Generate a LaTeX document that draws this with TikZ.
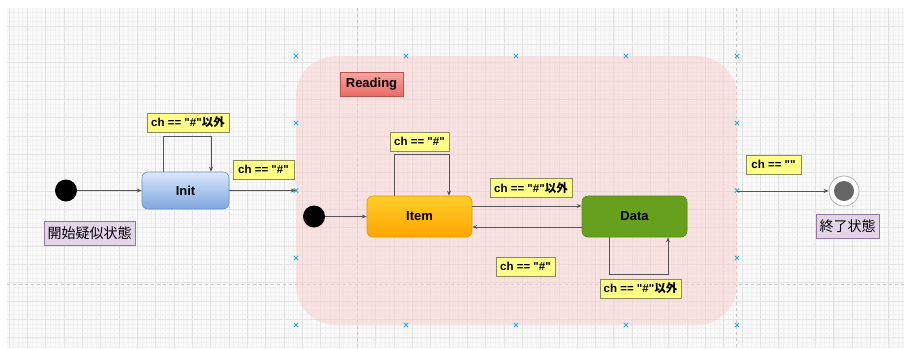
\documentclass[tikz,border=0pt]{standalone}
\usepackage{fontspec}
\setmainfont{Liberation Sans}[Ligatures=TeXOff]
\newfontfamily\cjk{Noto Sans CJK JP}
\usetikzlibrary{arrows.meta,calc,shapes.misc}

\definecolor{gridbg}{HTML}{F9F9F9}
\definecolor{gridminor}{HTML}{F1F1F1}
\definecolor{gridmajor}{HTML}{E3E3E3}
\definecolor{pagebreak}{HTML}{C8C8C8}
\definecolor{regionfill}{HTML}{F8CECC}
\definecolor{handle}{HTML}{29A8EC}
\definecolor{edgecol}{HTML}{555555}
\definecolor{notefill}{HTML}{FFFF88}
\definecolor{notedraw}{HTML}{8A8A5A}
\definecolor{tagfill}{HTML}{E1D5E7}
\definecolor{tagdraw}{HTML}{9673A6}
\definecolor{blueA}{HTML}{DAE8FC}
\definecolor{blueB}{HTML}{7EA6E0}
\definecolor{blueD}{HTML}{6C8EBF}
\definecolor{orangeA}{HTML}{FFCD28}
\definecolor{orangeB}{HTML}{FFA500}
\definecolor{orangeD}{HTML}{D79B00}
\definecolor{greenF}{HTML}{66A01C}
\definecolor{greenD}{HTML}{4F8A10}
\definecolor{redA}{HTML}{F4A5A2}
\definecolor{redB}{HTML}{EA6B66}
\definecolor{redD}{HTML}{B85450}
\definecolor{endring}{HTML}{B3B3B3}
\definecolor{endcore}{HTML}{666666}

\begin{document}
\begin{tikzpicture}[x=1pt,y=-1pt,
  minorline/.style={draw=gridminor,line width=0.5pt},
  majorline/.style={draw=gridmajor,line width=0.8pt},
  breakline/.style={draw=pagebreak,line width=0.8pt,dash pattern=on 3pt off 3pt},
  region/.style={rectangle,rounded corners=40pt,fill=regionfill,fill opacity=0.5,
    minimum width=441pt,minimum height=269pt,inner sep=0pt},
  handlemark/.style={cross out,draw=handle,line width=0.8pt,minimum size=3.5pt,inner sep=0pt},
  statebox/.style={rectangle,rounded corners=6pt,line width=0.6pt,inner sep=0pt,
    font=\fontsize{13}{15}\selectfont\bfseries},
  initstate/.style={circle,fill=black,minimum size=22pt,inner sep=0pt},
  note/.style={rectangle,fill=notefill,draw=notedraw,line width=0.6pt,inner sep=0pt,
    minimum height=19pt,font=\fontsize{11.5}{13}\selectfont\bfseries},
  tag/.style={rectangle,fill=tagfill,draw=tagdraw,line width=0.6pt,inner sep=0pt,
    minimum height=24pt,font=\cjk\fontsize{14}{16}\selectfont},
  edge/.style={draw=edgecol,line width=0.8pt,-{Stealth[length=5pt,width=4pt]}}]

\useasboundingbox (0,0) rectangle (904,348);

% canvas grid
\fill[gridbg] (7,8) rectangle (904,348);
\begin{scope}
  \clip (7,8) rectangle (904,348);
  \foreach \i in {-1,...,196} \draw[minorline] ({9+\i*4.5825},8) -- ++(0,340);
  \foreach \j in {0,...,74} \draw[minorline] (7,{7.67+\j*4.5825}) -- ++(897,0);
  \foreach \i in {0,...,48} \draw[majorline] ({9+\i*18.33},8) -- ++(0,340);
  \foreach \j in {0,...,18} \draw[majorline] (7,{7.67+\j*18.33}) -- ++(897,0);
  \draw[breakline] (357,8) -- (357,348);
  \draw[breakline] (736,8) -- (736,348);
  \draw[breakline] (7,284) -- (904,284);
\end{scope}

% composite state region
\node[region] (reading) at (516.5,190.5) {};
\foreach \x in {296,406,516,626,737} {
  \node[handlemark] at (\x,56) {};
  \node[handlemark] at (\x,325) {};
}
\foreach \y in {123,190.5,258} {
  \node[handlemark] at (296,\y) {};
  \node[handlemark] at (737,\y) {};
}
\node[rectangle,top color=redA,bottom color=redB,draw=redD,line width=0.6pt,
  minimum width=63pt,minimum height=24pt,inner sep=0pt,
  font=\fontsize{13}{15}\selectfont\bfseries] (readinglabel) at (371.5,84) {Reading};

% outer states
\node[initstate] (start) at (66,190.5) {};
\node[tag,minimum width=91pt] (starttag) at (89.5,233) {開始疑似状態};
\node[statebox,top color=blueA,bottom color=blueB,draw=blueD,
  minimum width=87pt,minimum height=37pt] (init) at (185.5,190.5) {Init};

\node[circle,draw=endring,fill=white,line width=0.8pt,minimum size=30pt,inner sep=0pt] (final) at (844,191) {};
\node[circle,fill=endcore,minimum size=20pt,inner sep=0pt] (finalcore) at (final.center) {};
\node[tag,minimum width=63pt] (endtag) at (847.5,226) {終了状態};

% inner states
\node[initstate] (innerstart) at (314,216.5) {};
\node[statebox,top color=orangeA,bottom color=orangeB,draw=orangeD,
  minimum width=105pt,minimum height=41pt] (item) at (419.5,216.5) {Item};
\node[statebox,fill=greenF,draw=greenD,
  minimum width=105pt,minimum height=41pt] (data) at (634.5,216.5) {Data};

% transition labels
\node[note,minimum width=82pt] (initloopnote) at (188,122.5) {ch == "\#"{\cjk 以外}};
\node[note,minimum width=61pt] (entrynote) at (263.5,169.5) {ch == "\#"};
\node[note,minimum width=59pt] (itemloopnote) at (419.5,141.5) {ch == "\#"};
\node[note,minimum width=82pt] (todatanote) at (531,188) {ch == "\#"{\cjk 以外}};
\node[note,minimum width=59pt] (toitemnote) at (525.5,266.5) {ch == "\#"};
\node[note,minimum width=81pt] (dataloopnote) at (640.5,288.5) {ch == "\#"{\cjk 以外}};
\node[note,minimum width=55pt] (exitnote) at (773.5,164.5) {ch == ""};

% transitions
\draw[edge] (start.east) -- (init.west);
\draw[edge] ([xshift=-22.5pt]init.north) -- ++(0,-35) -| ([xshift=25.5pt]init.north);
\draw[edge] (init.east) -- (init.east -| reading.west);
\draw[edge] (innerstart.east) -- (item.west);
\draw[edge] ([xshift=-25.5pt]item.north) -- ++(0,-41) -| ([xshift=29.5pt]item.north);
\draw[edge] ([yshift=10.5pt]item.east) -- ([yshift=10.5pt]data.west);
\draw[edge] ([yshift=-10.5pt]data.west) -- ([yshift=-10.5pt]item.east);
\draw[edge] ([xshift=-25.5pt]data.south) -- ++(0,37) -| ([xshift=33.5pt]data.south);
\draw[edge] (reading.east |- final.west) -- (final.west);

\end{tikzpicture}
\end{document}
